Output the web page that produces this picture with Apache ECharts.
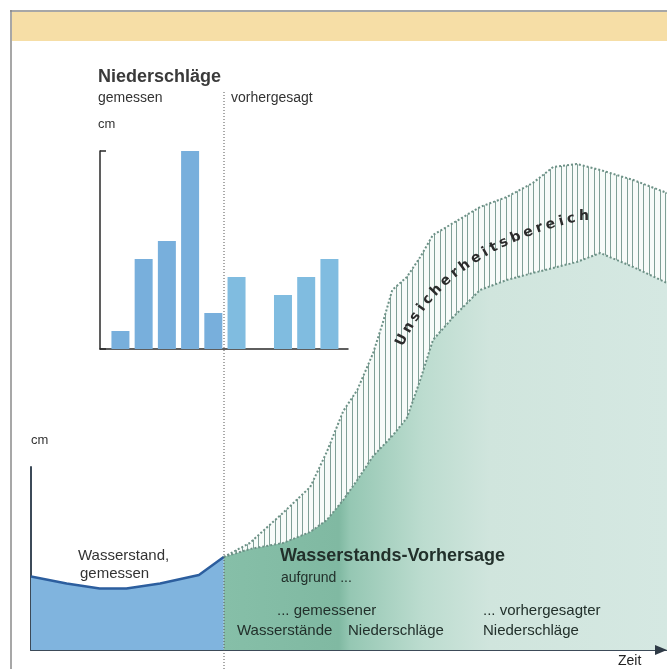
<!DOCTYPE html>
<html>
<head>
<meta charset="utf-8">
<script src="https://cdn.jsdelivr.net/npm/echarts@6/dist/echarts.min.js"></script>
<style>
html, body { margin: 0; padding: 0; background: #fff; }
#chart { width: 667px; height: 669px; }
</style>
</head>
<body>
<div id="chart"></div>
<script>
// Niederschläge (inset), one slot per day, slot 7 has no bar
var rainSlot = [1, 2, 3, 4, 5, 6, 7, 8, 9, 10];
var rainValue = [1, 5, 6, 11, 2, 4, 0, 3, 4, 5];
var rainForecastFrom = 6;

// Wasserstand, gemessen
var levelTime = [0, 5.6, 10.8, 15, 20.3, 26.4, 30.3];
var levelValue = [14.7, 13.3, 12.3, 12.3, 13.3, 15, 18.6];

// Wasserstands-Vorhersage with Unsicherheitsbereich
var fcTime = [30.3, 34.4, 39.6, 43.9, 46.5, 49.1, 51.3, 53.8, 55.3, 56.8, 59.1, 61.2, 63.2, 66.4, 70.6, 74.8, 78.9, 82.1, 85.8, 89.5, 94.7, 100];
var fcLower = [18.6, 20.2, 21.4, 23.6, 26, 30, 34, 38.8, 40.8, 42.8, 46.4, 54, 62, 66.6, 72, 74, 75.4, 76.4, 77.6, 79.4, 76.6, 73.4];
var fcUpper = [18.6, 21.4, 27.4, 32.6, 39.6, 47.8, 52, 59.4, 65.4, 72, 74.6, 78.6, 83, 85.4, 88.6, 90.6, 93.4, 96.6, 97.2, 96, 94, 91.4];

var FONT = '"Liberation Sans", Arial, sans-serif';

var chart = echarts.init(document.getElementById('chart'), null, { renderer: 'canvas' });

function hatch() {
    var c = document.createElement('canvas');
    c.width = 11; c.height = 4;
    var g = c.getContext('2d');
    g.fillStyle = '#f7fbf9';
    g.fillRect(0, 0, 11, 4);
    g.fillStyle = '#7f9f96';
    g.fillRect(0, 0, 1, 4);
    g.fillRect(5, 0, 1, 4);
    return c;
}

// letters of the band label, placed one by one along a curve
function curveLabel(text, p0, p1, p2, font) {
    var ctx = document.createElement('canvas').getContext('2d');
    ctx.font = font;
    var pt = function (t) {
        var a = (1 - t) * (1 - t), b = 2 * t * (1 - t), c = t * t;
        return [a * p0[0] + b * p1[0] + c * p2[0], a * p0[1] + b * p1[1] + c * p2[1]];
    };
    var N = 400, pts = [pt(0)], len = [0];
    for (var i = 1; i <= N; i++) {
        pts.push(pt(i / N));
        len.push(len[i - 1] + Math.hypot(pts[i][0] - pts[i - 1][0], pts[i][1] - pts[i - 1][1]));
    }
    var chars = text.split('');
    var w = chars.map(function (ch) { return ctx.measureText(ch).width; });
    var inner = 0;
    for (i = 1; i < w.length; i++) inner += w[i - 1] / 2 + w[i] / 2;
    var track = (len[N] - inner) / (chars.length - 1);
    var out = [], s = 0, k = 0;
    chars.forEach(function (ch, j) {
        if (j > 0) s += w[j - 1] / 2 + track + w[j] / 2;
        while (k < N && len[k + 1] < s) k++;
        var kk = Math.min(k + 1, N);
        var a = pts[k], b = pts[kk];
        var ang = Math.atan2(b[1] - a[1], b[0] - a[0]);
        out.push({
            type: 'text', z: 120, x: a[0], y: a[1], rotation: -ang,
            style: { text: ch, font: font, fill: '#2b2b2b', align: 'center', verticalAlign: 'middle', textAlign: 'center', textVerticalAlign: 'middle' }
        });
    });
    return out;
}

function txt(s, x, y, size, weight, color) {
    return {
        type: 'text', z: 120, x: x, y: y,
        style: {
            text: s, fill: color || '#333',
            font: (weight || 'normal') + ' ' + size + 'px ' + FONT,
            align: 'left', verticalAlign: 'middle', textAlign: 'left', textVerticalAlign: 'middle'
        }
    };
}

var rainData = rainSlot.map(function (s, i) {
    return {
        value: [s, rainValue[i]],
        itemStyle: { color: s >= rainForecastFrom ? '#80bce0' : '#78afdc' }
    };
});
var levelData = levelTime.map(function (t, i) { return [t, levelValue[i]]; });
var lowerData = fcTime.map(function (t, i) { return [t, fcLower[i]]; });
var upperData = fcTime.map(function (t, i) { return [t, fcUpper[i]]; });

var graphics = [
    { type: 'rect', z: 1, shape: { x: 12, y: 12, width: 655, height: 29 }, style: { fill: '#f6dea6' } },
    { type: 'line', z: 2, shape: { x1: 10, y1: 11, x2: 667, y2: 11 }, style: { stroke: '#8a8a8a', lineWidth: 1.5 } },
    { type: 'line', z: 2, shape: { x1: 11, y1: 10, x2: 11, y2: 669 }, style: { stroke: '#8a8a8a', lineWidth: 1.5 } },
    { type: 'line', z: 110, shape: { x1: 224, y1: 92, x2: 224, y2: 669 }, style: { stroke: '#555', lineWidth: 1, lineDash: [1, 2] } },
    // arrow head at the end of the time axis
    { type: 'polygon', z: 110, shape: { points: [[655, 645], [667, 650], [655, 655]] }, style: { fill: '#2f3b47' } },
    txt('Niederschläge', 98, 77, 18, 'bold', '#3a3a3a'),
    txt('gemessen', 98, 98, 14, 'normal', '#333'),
    txt('vorhergesagt', 231, 98, 14, 'normal', '#333'),
    txt('cm', 98, 124, 13, 'normal', '#333'),
    txt('cm', 31, 440, 13, 'normal', '#333'),
    txt('Wasserstand,', 78, 556, 15, 'normal', '#333'),
    txt('gemessen', 80, 574, 15, 'normal', '#333'),
    txt('Wasserstands-Vorhersage', 280, 556, 18, 'bold', '#22302b'),
    txt('aufgrund ...', 281, 578, 14, 'normal', '#22302b'),
    txt('... gemessener', 277, 611, 15, 'normal', '#22302b'),
    txt('Wasserstände', 237, 631, 15, 'normal', '#22302b'),
    txt('Niederschläge', 348, 631, 15, 'normal', '#22302b'),
    txt('... vorhergesagter', 483, 611, 15, 'normal', '#22302b'),
    txt('Niederschläge', 483, 631, 15, 'normal', '#22302b'),
    txt('Zeit', 618, 661, 14, 'normal', '#222')
].concat(curveLabel('Unsicherheitsbereich', [402, 340], [447, 246], [584, 216], 'bold 14px "DejaVu Sans", sans-serif'));

var noAxisBits = { axisTick: { show: false }, axisLabel: { show: false }, splitLine: { show: false } };

chart.setOption({
    animation: false,
    backgroundColor: '#fff',
    grid: [
        { left: 31, right: 0, top: 150, bottom: 19 },
        { left: 100, right: 319, top: 151, bottom: 320 },
        { left: 31, top: 467, bottom: 19, width: 20 }
    ],
    xAxis: [
        Object.assign({
            gridIndex: 0, type: 'value', min: 0, max: 100,
            axisLine: { show: true, lineStyle: { color: '#3c4a58', width: 2 } }
        }, noAxisBits),
        Object.assign({
            gridIndex: 1, type: 'value', min: 0.12, max: 10.8,
            axisLine: { show: true, lineStyle: { color: '#2a2a2a', width: 1.5 } }
        }, noAxisBits),
        Object.assign({ gridIndex: 2, type: 'value', min: 0, max: 1, axisLine: { show: false } }, noAxisBits)
    ],
    yAxis: [
        Object.assign({ gridIndex: 0, type: 'value', min: 0, max: 100, axisLine: { show: false } }, noAxisBits),
        {
            gridIndex: 1, type: 'value', min: 0, max: 11, interval: 11,
            axisLine: { show: true, lineStyle: { color: '#2a2a2a', width: 1.5 } },
            axisTick: { show: true, inside: true, length: 6, lineStyle: { color: '#2a2a2a', width: 1.5 } },
            axisLabel: { show: false }, splitLine: { show: false }
        },
        Object.assign({
            gridIndex: 2, type: 'value', min: 0, max: 1,
            axisLine: { show: true, lineStyle: { color: '#3c4a58', width: 2 } }
        }, noAxisBits)
    ],
    series: [
        {
            name: 'Niederschläge', type: 'bar', xAxisIndex: 1, yAxisIndex: 1,
            barWidth: 18, data: rainData
        },
        {
            name: 'Wasserstand', type: 'line', xAxisIndex: 0, yAxisIndex: 0, z: 4,
            symbol: 'none', data: levelData,
            lineStyle: { color: '#2c5e9e', width: 2.5 },
            areaStyle: { color: '#80b4de', opacity: 1 }
        },
        {
            // upper bound: hatched, the forecast area below covers the rest
            name: 'Unsicherheitsbereich', type: 'line', xAxisIndex: 0, yAxisIndex: 0, z: 2,
            symbol: 'none', data: upperData,
            lineStyle: { color: '#6c9186', width: 2, type: 'dotted' },
            areaStyle: { opacity: 1, color: { image: hatch(), repeat: 'repeat' } }
        },
        {
            name: 'Vorhersage', type: 'line', xAxisIndex: 0, yAxisIndex: 0, z: 3,
            symbol: 'none', data: lowerData,
            lineStyle: { color: '#6c9186', width: 2, type: 'dotted' },
            areaStyle: {
                opacity: 1,
                color: new echarts.graphic.LinearGradient(0, 0, 1, 0, [
                    { offset: 0, color: '#86bfa8' },
                    { offset: 0.26, color: '#80b9a2' },
                    { offset: 0.285, color: '#95c7b3' },
                    { offset: 0.45, color: '#bcdccf' },
                    { offset: 0.6, color: '#d0e5dd' },
                    { offset: 1, color: '#d5e8e2' }
                ])
            }
        }
    ],
    graphic: graphics
});
</script>
</body>
</html>
